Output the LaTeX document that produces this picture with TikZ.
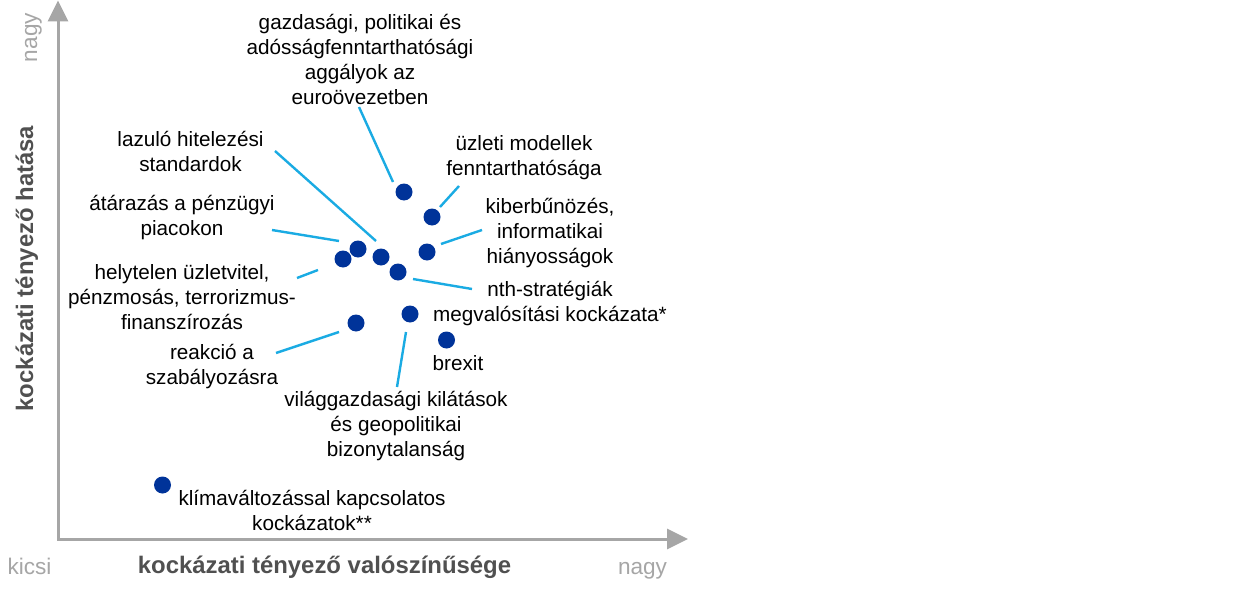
\documentclass[tikz,border=0pt]{standalone}
\usepackage{fontspec}
\setmainfont{Liberation Sans}
\usetikzlibrary{arrows.meta}
\definecolor{dotblue}{HTML}{003399}
\definecolor{leadcyan}{HTML}{1AABE3}
\definecolor{axisgray}{HTML}{A6A6A6}
\definecolor{titlegray}{HTML}{505050}
\begin{document}
\begin{tikzpicture}[x=1pt,y=-1pt,
  riskdot/.style={circle,fill=dotblue,minimum size=17pt,inner sep=0pt},
  lbl/.style={align=center,inner sep=0pt,anchor=north,
    font=\fontsize{20.7}{24.9}\selectfont,
    execute at begin node={\rule{0pt}{18pt}}},
  leader/.style={draw=leadcyan,line width=2.4pt},
  axisline/.style={draw=axisgray,line width=3pt,
    arrows={Triangle[length=21pt,width=20pt]-Triangle[length=21pt,width=20pt]}},
  endlbl/.style={text=axisgray,inner sep=0pt,anchor=base,
    font=\fontsize{22.6}{26}\selectfont},
  axtitle/.style={text=titlegray,inner sep=0pt,anchor=base,
    font=\fontsize{23.9}{28}\selectfont\bfseries}]
\useasboundingbox[fill=white] (0,0) rectangle (1240,594);

% axes
\coordinate (ytip) at (58,0.5);
\coordinate (origin) at (58,539);
\coordinate (xtip) at (688,539);
\draw[axisline] (ytip) -- (origin) -- (xtip);

\node[endlbl,rotate=90] (ybig) at (37,37.5) {nagy};
\node[axtitle,rotate=90] (ytitle) at (33,268.5) {kockázati tényező hatása};
\node[endlbl] (xsmall) at (29.5,574) {kicsi};
\node[axtitle] (xtitle) at (324.5,573) {kockázati tényező valószínűsége};
\node[endlbl] (xbig) at (642.5,574) {nagy};

% labels
\node[lbl] (tgaz) at (360,14) {gazdasági, politikai és\\adósságfenntarthatósági\\aggályok az\\euroövezetben};
\node[lbl] (tlaz) at (190.5,131) {lazuló hitelezési\\standardok};
\node[lbl] (tatar) at (182,195) {átárazás a pénzügyi\\piacokon};
\node[lbl] (thely) at (182,264) {helytelen üzletvitel,\\pénzmosás, terrorizmus-\\finanszírozás};
\node[lbl] (treak) at (212,344) {reakció a\\szabályozásra};
\node[lbl] (tuzl) at (524,135) {üzleti modellek\\fenntarthatósága};
\node[lbl] (tkib) at (550,198) {kiberbűnözés,\\informatikai\\hiányosságok};
\node[lbl] (tnth) at (550,281) {nth-stratégiák\\megvalósítási kockázata*};
\node[lbl] (tbrex) at (458,352) {brexit};
\node[lbl] (tvil) at (396,391) {világgazdasági kilátások\\és geopolitikai\\bizonytalanság};
\node[lbl] (tkli) at (312,490) {klímaváltozással kapcsolatos\\kockázatok**};

% leader end points
\coordinate (lgaz1) at (359,107);  \coordinate (lgaz2) at (393,182);
\coordinate (llaz1) at (275,151);  \coordinate (llaz2) at (376,241);
\coordinate (latar1) at (272,230); \coordinate (latar2) at (339,241);
\coordinate (lhely1) at (297,278); \coordinate (lhely2) at (318,270);
\coordinate (luzl1) at (459,186);  \coordinate (luzl2) at (440,207);
\coordinate (lkib1) at (482,230);  \coordinate (lkib2) at (441,244);
\coordinate (lnth1) at (413,279);  \coordinate (lnth2) at (472,289);
\coordinate (lvil1) at (406,332);  \coordinate (lvil2) at (397,387);
\coordinate (lreak1) at (339,332); \coordinate (lreak2) at (276,353);

\draw[leader] (lgaz1) -- (lgaz2);
\draw[leader] (llaz1) -- (llaz2);
\draw[leader] (latar1) -- (latar2);
\draw[leader] (lhely1) -- (lhely2);
\draw[leader] (luzl1) -- (luzl2);
\draw[leader] (lkib1) -- (lkib2);
\draw[leader] (lnth1) -- (lnth2);
\draw[leader] (lvil1) -- (lvil2);
\draw[leader] (lreak1) -- (lreak2);

% dots
\node[riskdot] (dgaz) at (404,192) {};
\node[riskdot] (duzl) at (432,217) {};
\node[riskdot] (dkib) at (427,252) {};
\node[riskdot] (datar) at (358,249) {};
\node[riskdot] (dhely) at (343,259) {};
\node[riskdot] (dlaz) at (381,257) {};
\node[riskdot] (dnth) at (398,272) {};
\node[riskdot] (dvil) at (410,314) {};
\node[riskdot] (dreak) at (356,323) {};
\node[riskdot] (dbrex) at (446.5,340) {};
\node[riskdot] (dkli) at (162.5,485) {};
\end{tikzpicture}
\end{document}
